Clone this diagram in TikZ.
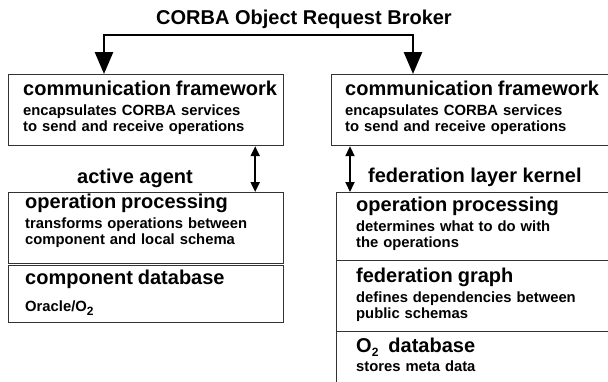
\documentclass[tikz,border=0pt]{standalone}
\usepackage{fontspec}
\setmainfont{Liberation Sans}
\usetikzlibrary{arrows.meta,positioning}
\newcommand{\hd}[2][4pt]{{\fontsize{20}{22}\selectfont\rule{0pt}{15pt}#2\par}\vspace{#1}}
\newcommand{\low}[1]{\raisebox{-4pt}{\fontsize{12}{12}\selectfont #1}}

\begin{document}
\begin{tikzpicture}[x=1pt,y=-1pt,font=\bfseries]
  \tikzstyle{layer}=[draw=black!80,line width=1.2pt,anchor=north west,inner sep=0pt]
  \tikzstyle{desc}=[anchor=north west,inner sep=0pt,text width=280pt,align=left,
                    font=\bfseries\fontsize{14.8}{16}\selectfont]
  \tikzstyle{tag}=[inner sep=0pt,font=\bfseries\fontsize{20}{22}\selectfont]
  \tikzstyle{orb}=[line width=2.7pt,
                   {Triangle[width=18pt,length=22pt]}-{Triangle[width=18pt,length=22pt]}]
  \tikzstyle{dbl}=[line width=2pt,
                   {Triangle[width=9pt,length=10pt]}-{Triangle[width=9pt,length=10pt]}]

  \path[use as bounding box,clip] (0,0) rectangle (608,381);

  \node[tag] (orbname) at (304,19) {CORBA Object Request Broker};

  \node[layer,minimum width=275pt,minimum height=71pt] (lcomm) at (8,74) {};
  \node[layer,minimum width=275pt,minimum height=71pt] (lop)   at (8,192) {};
  \node[layer,minimum width=275pt,minimum height=57pt] (lcomp) at (8,265) {};
  \node[layer,minimum width=300pt,minimum height=71pt] (rcomm) at (331,74) {};
  \node[layer,minimum width=300pt,minimum height=68pt] (rop)   at (336,192) {};
  \node[layer,minimum width=300pt,minimum height=71pt] (rgraph) at (336,260) {};
  \node[layer,minimum width=300pt,minimum height=80pt] (rodb)  at (336,331) {};

  \node[desc] (lcommtxt) at ([shift={(15,6)}]lcomm.north west)
    {\hd{communication framework}encapsulates CORBA services\par to send and receive operations};
  \node[desc] (loptxt) at ([shift={(17,1)}]lop.north west)
    {\hd{operation processing}transforms operations between\par component and local schema};
  \node[desc] (lcomptxt) at ([shift={(17,4)}]lcomp.north west)
    {\hd[11pt]{component database}Oracle/O\low{2}};
  \node[desc] (rcommtxt) at ([shift={(14,6)}]rcomm.north west)
    {\hd{communication framework}encapsulates CORBA services\par to send and receive operations};
  \node[desc] (roptxt) at ([shift={(20,4)}]rop.north west)
    {\hd{operation processing}determines what to do with\par the operations};
  \node[desc] (rgraphtxt) at ([shift={(20,7)}]rgraph.north west)
    {\hd{federation graph}defines dependencies between\par public schemas};
  \node[desc] (rodbtxt) at ([shift={(20,6)}]rodb.north west)
    {\hd[3pt]{O\low{2}\hspace{10pt}database}stores meta data};

  \node[tag] (agent) at (135,178.5) {active agent};
  \node[tag,anchor=west] (kernel) at (368,177) {federation layer kernel};

  \coordinate (lin) at (104,74);
  \coordinate (rin) at (413,74);
  \draw[orb] (lin) -- ++(0,-39) -| (rin);

  \draw[dbl] ([xshift=-29pt]lcomm.south east) -- ([xshift=-29pt]lop.north east);
  \draw[dbl] ([xshift=19pt]rcomm.south west) -- ([xshift=19pt]rcomm.south west |- rop.north);
\end{tikzpicture}
\end{document}
